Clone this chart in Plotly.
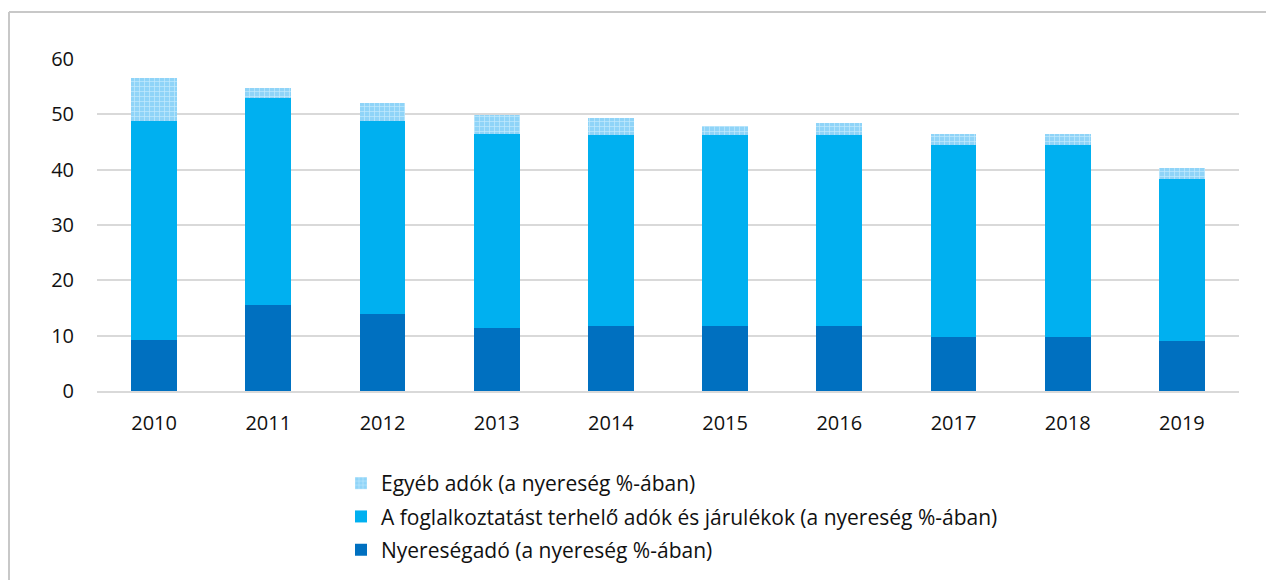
import plotly.graph_objects as go

years = ["2010", "2011", "2012", "2013", "2014", "2015", "2016", "2017", "2018", "2019"]
nyereseg_ado = [9.2, 15.5, 13.9, 11.4, 11.7, 11.7, 11.7, 9.8, 9.8, 9.0]
foglalkoztatas = [39.6, 37.4, 34.9, 35.1, 34.5, 34.5, 34.5, 34.6, 34.6, 29.3]
egyeb_adok = [7.8, 1.8, 3.3, 3.4, 3.2, 1.7, 2.2, 2.1, 2.1, 2.0]

names = [
    "Nyereségadó (a nyereség %-ában)",
    "A foglalkoztatást terhelő adók és járulékok (a nyereség %-ában)",
    "Egyéb adók (a nyereség %-ában)",
]

FONT = "Open Sans"

fig = go.Figure()
fig.add_trace(go.Bar(x=years, y=nyereseg_ado, name=names[0], legendgroup="a", legendrank=3,
                     marker=dict(color="#0070c0", line=dict(width=0))))
fig.add_trace(go.Bar(x=years, y=foglalkoztatas, name=names[1], legendgroup="b", legendrank=2,
                     marker=dict(color="#00b0f0", line=dict(width=0))))
fig.add_trace(go.Bar(x=years, y=egyeb_adok, name=names[2], legendgroup="c", legendrank=1,
                     marker=dict(color="#8fd4f8", line=dict(width=0),
                                 pattern=dict(shape="+", fgcolor="#c4eafc", bgcolor="#8fd4f8",
                                              fillmode="replace", size=5, solidity=0.25))))

L, R, T, B = 97, 27, 59, 189
PW, PH = 1266 - L - R, 580 - T - B
fig.update_layout(
    width=1266, height=580,
    margin=dict(l=L, r=R, t=T, b=B, autoexpand=False),
    barmode="stack",
    bargap=0.6,
    plot_bgcolor="white",
    paper_bgcolor="white",
    hovermode=False,
    font=dict(family=FONT, size=20, color="#111111"),
    xaxis=dict(showgrid=False, showline=True, linecolor="#d9d9d9", linewidth=2,
               ticks="", ticklabelstandoff=13, tickfont=dict(size=20, color="#111111")),
    yaxis=dict(range=[0, 60], dtick=10, showgrid=True, gridcolor="#d9d9d9", gridwidth=2,
               zeroline=False, ticks="", ticklabelstandoff=22,
               tickfont=dict(size=20, color="#111111")),
    legend=dict(orientation="v", traceorder="grouped", tracegroupgap=3,
                x=(341 - L) / PW, xanchor="left",
                y=(391 - 463) / PH, yanchor="top", font=dict(size=21, color="#111111"),
                bgcolor="rgba(0,0,0,0)"),
    shapes=[
        dict(type="line", xref="paper", yref="paper", x0=(9 - L) / PW, x1=(1270 - L) / PW,
             y0=(391 - 12) / PH, y1=(391 - 12) / PH, line=dict(color="#c8c8c8", width=2)),
        dict(type="line", xref="paper", yref="paper", x0=(9 - L) / PW, x1=(9 - L) / PW,
             y0=(391 - 12) / PH, y1=-0.7, line=dict(color="#c8c8c8", width=2)),
    ],
)

fig.write_html("out.html", config={"displayModeBar": False},
               post_script="document.body.style.margin='0';")
